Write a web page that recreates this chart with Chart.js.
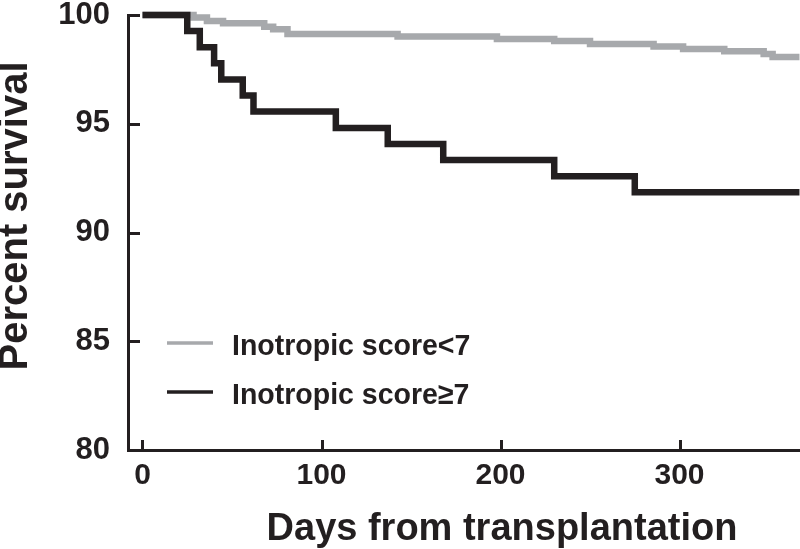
<!DOCTYPE html>
<html lang="en">
<head>
<meta charset="UTF-8">
<title>Survival by inotropic score</title>
<script src="https://cdn.jsdelivr.net/npm/chart.js"></script>
<style>
  body, html { margin: 0; padding: 0; background: #fff; }
  canvas { display: block; }
</style>
</head>
<body>
<canvas id="km" width="800" height="549"></canvas>
<script>
// Kaplan-Meier steps (day of drop, survival after the drop)
var lowDays  = [0, 28.5, 36, 45, 68, 73, 81, 142.5, 198, 230, 250, 285.5, 302, 325, 347, 352, 367];
var lowSurv  = [100, 99.88, 99.72, 99.62, 99.46, 99.35, 99.13, 99.01, 98.9, 98.8, 98.67, 98.55, 98.44, 98.33, 98.21, 98.07, 98.07];
var highDays = [0, 25, 32, 40, 44, 56, 62, 108, 137, 168, 230, 275, 367];
var highSurv = [100, 99.26, 98.52, 97.78, 97.04, 96.3, 95.56, 94.81, 94.07, 93.33, 92.59, 91.85, 91.85];
var xTicks = [0, 100, 200, 300];
var yTicks = [80, 85, 90, 95, 100];
var seriesNames = ['Inotropic score<7', 'Inotropic score\u22657'];
var xTitle = 'Days from transplantation';
var yTitle = 'Percent survival';

var ink = '#231f20';
var grey = '#a7a9ac';

function pts(xs, ys) {
  return xs.map(function(x, i) { return { x: x, y: ys[i] }; });
}

Chart.defaults.font.family = "'Liberation Sans', Arial, sans-serif";
Chart.defaults.color = ink;

// inward tick marks, legend and axis titles
var decor = {
  id: 'decor',
  afterDraw: function(chart) {
    var c = chart.ctx, a = chart.chartArea;
    var xs = chart.scales.x, ys = chart.scales.y;
    c.save();
    c.strokeStyle = ink;
    c.lineWidth = 3;
    xTicks.forEach(function(v) {
      var p = Math.round(xs.getPixelForValue(v)) + 0.5;
      c.beginPath(); c.moveTo(p, a.bottom); c.lineTo(p, a.bottom - 10); c.stroke();
    });
    yTicks.forEach(function(v) {
      var p = Math.round(ys.getPixelForValue(v)) + 0.5;
      c.beginPath(); c.moveTo(a.left, p); c.lineTo(a.left + 12, p); c.stroke();
    });

    // legend
    var cols = [grey, ink];
    c.font = 'bold 30px ' + Chart.defaults.font.family;
    c.fillStyle = ink;
    c.textAlign = 'left';
    c.textBaseline = 'alphabetic';
    [343, 392].forEach(function(y, i) {
      c.strokeStyle = cols[i];
      c.lineWidth = 3.5;
      c.beginPath(); c.moveTo(167, y); c.lineTo(213, y); c.stroke();
      c.save();
      c.translate(232, y + 12);
      c.scale(0.95, 1);   // the original face is a touch narrower
      c.fillText(seriesNames[i], 0, 0);
      c.restore();
    });

    // axis titles
    c.font = 'bold 38px ' + Chart.defaults.font.family;
    c.textAlign = 'center';
    c.fillText(xTitle, 502, 540);
    c.font = 'bold 40px ' + Chart.defaults.font.family;
    c.translate(27, 216);
    c.rotate(-Math.PI / 2);
    c.fillText(yTitle, 0, 0);
    c.restore();
  }
};

new Chart(document.getElementById('km').getContext('2d'), {
  type: 'line',
  data: {
    datasets: [{
      label: seriesNames[0],
      data: pts(lowDays, lowSurv),
      borderColor: grey,
      borderWidth: 6.5,
      stepped: 'before',
      pointRadius: 0,
      clip: false,
      order: 2
    }, {
      label: seriesNames[1],
      data: pts(highDays, highSurv),
      borderColor: ink,
      borderWidth: 6.5,
      stepped: 'before',
      pointRadius: 0,
      clip: false,
      order: 1
    }]
  },
  options: {
    responsive: false,
    animation: false,
    layout: { padding: { top: 15, right: 0, bottom: 55, left: 57 } },
    plugins: { legend: { display: false }, tooltip: { enabled: false } },
    scales: {
      x: {
        type: 'linear',
        min: -8.1,
        max: 367.3,
        afterBuildTicks: function(s) { s.ticks = xTicks.map(function(v) { return { value: v }; }); },
        afterFit: function(s) { s.height = 44; s.paddingLeft = 0; s.paddingRight = 0; },
        grid: { drawOnChartArea: false, drawTicks: false },
        border: { color: ink, width: 3 },
        ticks: { padding: 11, color: ink, font: { size: 30, weight: 'bold', lineHeight: 1 } }
      },
      y: {
        min: 80,
        max: 100,
        afterBuildTicks: function(s) { s.ticks = yTicks.map(function(v) { return { value: v }; }); },
        afterFit: function(s) { s.width = 71; s.paddingTop = 0; s.paddingBottom = 0; },
        grid: { drawOnChartArea: false, drawTicks: false },
        border: { color: ink, width: 3 },
        ticks: { padding: 18, color: ink, font: { size: 31, weight: 'bold', lineHeight: 1 } }
      }
    }
  },
  plugins: [decor]
});
</script>
</body>
</html>
